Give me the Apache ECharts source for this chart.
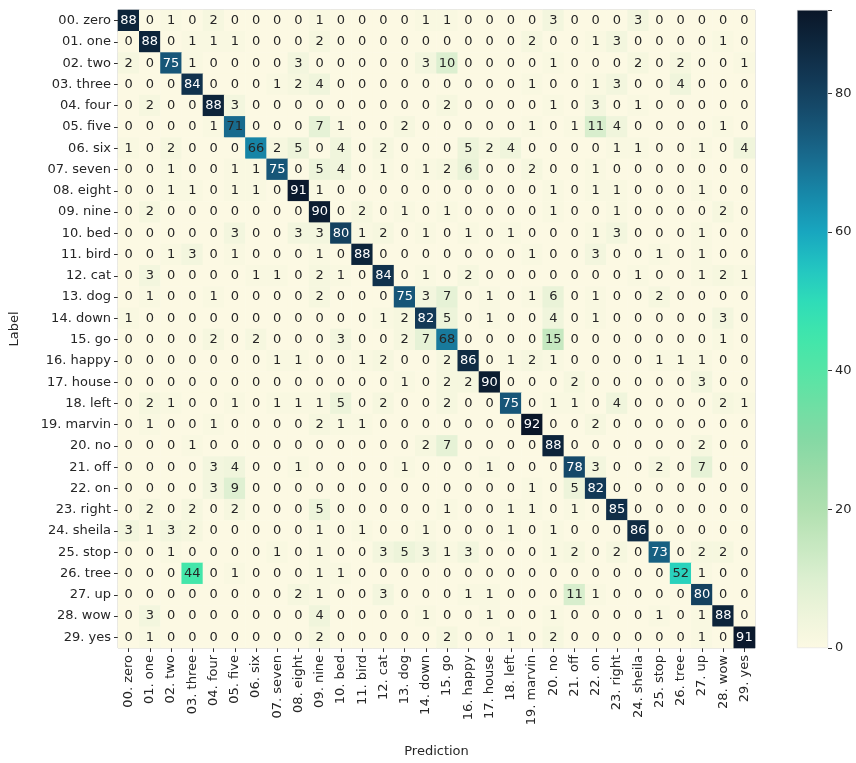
<!DOCTYPE html>
<html>
<head>
<meta charset="utf-8">
<script src="https://cdn.jsdelivr.net/npm/echarts@6/dist/echarts.min.js"></script>
<style>
html,body{margin:0;padding:0;background:#fff;}
#chart{width:856px;height:763px;}
</style>
</head>
<body>
<div id="chart"></div>
<script>
var labels = ["00. zero","01. one","02. two","03. three","04. four","05. five","06. six","07. seven","08. eight","09. nine","10. bed","11. bird","12. cat","13. dog","14. down","15. go","16. happy","17. house","18. left","19. marvin","20. no","21. off","22. on","23. right","24. sheila","25. stop","26. tree","27. up","28. wow","29. yes"];

var row00 = [88,0,1,0,2,0,0,0,0,1,0,0,0,0,1, 1,0,0,0,0,3,0,0,0,3,0,0,0,0,0];
var row01 = [0,88,0,1,1,1,0,0,0,2,0,0,0,0,0, 0,0,0,0,2,0,0,1,3,0,0,0,0,1,0];
var row02 = [2,0,75,1,0,0,0,0,3,0,0,0,0,0,3, 10,0,0,0,0,1,0,0,0,2,0,2,0,0,1];
var row03 = [0,0,0,84,0,0,0,1,2,4,0,0,0,0,0, 0,0,0,0,1,0,0,1,3,0,0,4,0,0,0];
var row04 = [0,2,0,0,88,3,0,0,0,0,0,0,0,0,0, 2,0,0,0,0,1,0,3,0,1,0,0,0,0,0];
var row05 = [0,0,0,0,1,71,0,0,0,7,1,0,0,2,0, 0,0,0,0,1,0,1,11,4,0,0,0,0,1,0];
var row06 = [1,0,2,0,0,0,66,2,5,0,4,0,2,0,0, 0,5,2,4,0,0,0,0,1,1,0,0,1,0,4];
var row07 = [0,0,1,0,0,1,1,75,0,5,4,0,1,0,1, 2,6,0,0,2,0,0,1,0,0,0,0,0,0,0];
var row08 = [0,0,1,1,0,1,1,0,91,1,0,0,0,0,0, 0,0,0,0,0,1,0,1,1,0,0,0,1,0,0];
var row09 = [0,2,0,0,0,0,0,0,0,90,0,2,0,1,0, 1,0,0,0,0,1,0,0,1,0,0,0,0,2,0];
var row10 = [0,0,0,0,0,3,0,0,3,3,80,1,2,0,1, 0,1,0,1,0,0,0,1,3,0,0,0,1,0,0];
var row11 = [0,0,1,3,0,1,0,0,0,1,0,88,0,0,0, 0,0,0,0,1,0,0,3,0,0,1,0,1,0,0];
var row12 = [0,3,0,0,0,0,1,1,0,2,1,0,84,0,1, 0,2,0,0,0,0,0,0,0,1,0,0,1,2,1];
var row13 = [0,1,0,0,1,0,0,0,0,2,0,0,0,75,3, 7,0,1,0,1,6,0,1,0,0,2,0,0,0,0];
var row14 = [1,0,0,0,0,0,0,0,0,0,0,0,1,2,82, 5,0,1,0,0,4,0,1,0,0,0,0,0,3,0];
var row15 = [0,0,0,0,2,0,2,0,0,0,3,0,0,2,7, 68,0,0,0,0,15,0,0,0,0,0,0,0,1,0];
var row16 = [0,0,0,0,0,0,0,1,1,0,0,1,2,0,0, 2,86,0,1,2,1,0,0,0,0,1,1,1,0,0];
var row17 = [0,0,0,0,0,0,0,0,0,0,0,0,0,1,0, 2,2,90,0,0,0,2,0,0,0,0,0,3,0,0];
var row18 = [0,2,1,0,0,1,0,1,1,1,5,0,2,0,0, 2,0,0,75,0,1,1,0,4,0,0,0,0,2,1];
var row19 = [0,1,0,0,1,0,0,0,0,2,1,1,0,0,0, 0,0,0,0,92,0,0,2,0,0,0,0,0,0,0];
var row20 = [0,0,0,1,0,0,0,0,0,0,0,0,0,0,2, 7,0,0,0,0,88,0,0,0,0,0,0,2,0,0];
var row21 = [0,0,0,0,3,4,0,0,1,0,0,0,0,1,0, 0,0,1,0,0,0,78,3,0,0,2,0,7,0,0];
var row22 = [0,0,0,0,3,9,0,0,0,0,0,0,0,0,0, 0,0,0,0,1,0,5,82,0,0,0,0,0,0,0];
var row23 = [0,2,0,2,0,2,0,0,0,5,0,0,0,0,0, 1,0,0,1,1,0,1,0,85,0,0,0,0,0,0];
var row24 = [3,1,3,2,0,0,0,0,0,1,0,1,0,0,1, 0,0,0,1,0,1,0,0,0,86,0,0,0,0,0];
var row25 = [0,0,1,0,0,0,0,1,0,1,0,0,3,5,3, 1,3,0,0,0,1,2,0,2,0,73,0,2,2,0];
var row26 = [0,0,0,44,0,1,0,0,0,1,1,0,0,0,0, 0,0,0,0,0,0,0,0,0,0,0,52,1,0,0];
var row27 = [0,0,0,0,0,0,0,0,2,1,0,0,3,0,0, 0,1,1,0,0,0,11,1,0,0,0,0,80,0,0];
var row28 = [0,3,0,0,0,0,0,0,0,4,0,0,0,0,1, 0,0,1,0,0,1,0,0,0,0,1,0,1,88,0];
var row29 = [0,1,0,0,0,0,0,0,0,2,0,0,0,0,0, 2,0,0,1,0,2,0,0,0,0,0,0,1,0,91];

var rows = [row00,row01,row02,row03,row04,row05,row06,row07,row08,row09,row10,row11,row12,row13,row14,row15,row16,row17,row18,row19,row20,row21,row22,row23,row24,row25,row26,row27,row28,row29];
var colorbarTicks = [0,20,40,60,80];
var vMin = 0, vMax = 92;

// colormap stops (value, colour)
var cmap = [
  [0,'#fcf9e3'],[5,'#edf4da'],[10,'#dcefd0'],[15,'#c6e8c0'],[20,'#b0e0b0'],
  [25,'#9cdba8'],[30,'#85d9a4'],[35,'#6edfa4'],[40,'#55e5a6'],[45,'#40e6ab'],
  [50,'#2fdcb8'],[55,'#22c4c2'],[60,'#18a6bf'],[65,'#178aab'],[70,'#186f92'],
  [75,'#175678'],[80,'#14415f'],[85,'#102e48'],[92,'#0a1628']
];
function hex2rgb(h){return [parseInt(h.substr(1,2),16),parseInt(h.substr(3,2),16),parseInt(h.substr(5,2),16)];}
function colorAt(v){
  for(var i=0;i<cmap.length-1;i++){
    if(v<=cmap[i+1][0]){
      var t=(v-cmap[i][0])/(cmap[i+1][0]-cmap[i][0]);
      var a=hex2rgb(cmap[i][1]), b=hex2rgb(cmap[i+1][1]);
      return 'rgb('+Math.round(a[0]+(b[0]-a[0])*t)+','+Math.round(a[1]+(b[1]-a[1])*t)+','+Math.round(a[2]+(b[2]-a[2])*t)+')';
    }
  }
  return cmap[cmap.length-1][1];
}
var vmColors=[];
for(var k=0;k<=92;k++){vmColors.push(colorAt(k));}
var gradStops=[];
for(var k=0;k<=92;k+=2){gradStops.push({offset:1-k/vMax,color:colorAt(k)});}

var data=[];
for(var i=0;i<rows.length;i++){
  for(var j=0;j<rows[i].length;j++){
    var v=rows[i][j];
    data.push({value:[j,i,v],label:{color: v>=72?'#ffffff':'#262626'}});
  }
}

var FONT='DejaVu Sans';
var chart=echarts.init(document.getElementById('chart'),null,{renderer:'canvas'});
chart.setOption({
  backgroundColor:'#ffffff',
  animation:false,
  grid:[
    {left:114,top:10,width:641,height:638,show:true,borderColor:'#c8c8c8',borderWidth:1,backgroundColor:'transparent'},
    {left:797,top:10,width:31,height:638}
  ],
  xAxis:[
    {type:'category',gridIndex:0,data:labels,
     name:'Prediction',nameLocation:'middle',nameGap:97,
     nameTextStyle:{fontFamily:FONT,fontSize:13,color:'#262626'},
     axisLine:{show:false},
     axisTick:{show:true,alignWithLabel:true,length:4,lineStyle:{color:'#333'}},
     axisLabel:{rotate:90,interval:0,fontFamily:FONT,fontSize:13,color:'#262626',margin:7},
     splitLine:{show:false}},
    {type:'category',gridIndex:1,data:['c'],show:false}
  ],
  yAxis:[
    {type:'category',gridIndex:0,data:labels,inverse:true,
     name:'Label',nameLocation:'middle',nameGap:97,nameRotate:90,
     nameTextStyle:{fontFamily:FONT,fontSize:13,color:'#262626'},
     axisLine:{show:false},
     axisTick:{show:true,alignWithLabel:true,length:4,lineStyle:{color:'#333'}},
     axisLabel:{interval:0,fontFamily:FONT,fontSize:13,color:'#262626',margin:7},
     splitLine:{show:false}},
    {type:'value',gridIndex:1,min:vMin,max:vMax,interval:20,position:'right',
     axisLine:{show:false},
     axisTick:{show:true,length:4,lineStyle:{color:'#333'}},
     axisLabel:{fontFamily:FONT,fontSize:13,color:'#262626',margin:7,
       formatter:function(v){return colorbarTicks.indexOf(v)>=0?String(v):'';}},
     splitLine:{show:false}}
  ],
  visualMap:{type:'continuous',min:vMin,max:vMax,show:false,seriesIndex:0,dimension:2,
    inRange:{color:vmColors}},
  series:[
    {type:'heatmap',xAxisIndex:0,yAxisIndex:0,data:data,
     label:{show:true,fontFamily:FONT,fontSize:13,formatter:function(p){return p.value[2];}},
     itemStyle:{borderWidth:0},
     emphasis:{disabled:true}},
    {type:'bar',xAxisIndex:1,yAxisIndex:1,data:[vMax],barWidth:'100%',silent:true,
     itemStyle:{color:new echarts.graphic.LinearGradient(0,0,0,1,gradStops),borderColor:'#dddddd',borderWidth:0.5}}
  ]
});
</script>
</body>
</html>
